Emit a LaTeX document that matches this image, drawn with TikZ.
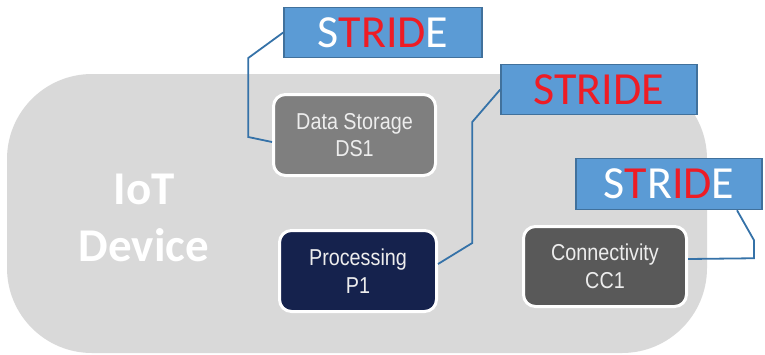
\documentclass[tikz,border=0pt]{standalone}
\usepackage{fontspec}
\setmainfont{Carlito}
\newfontfamily\boxfont[FakeStretch=0.86]{Liberation Sans}
\usepackage{tikz}
\usetikzlibrary{calc}
\usepackage{xcolor}
\definecolor{devicegray}{HTML}{D9D9D9}
\definecolor{dsgray}{HTML}{7F7F7F}
\definecolor{pnavy}{HTML}{15224D}
\definecolor{ccgray}{HTML}{595959}
\definecolor{stridefill}{HTML}{5B9BD5}
\definecolor{strideline}{HTML}{41719C}
\definecolor{stridered}{HTML}{EE1C25}
\definecolor{linkblue}{HTML}{3572A8}
\definecolor{boxtext}{HTML}{EDEDED}

\begin{document}
\begin{tikzpicture}[x=1pt,y=-1pt,
  elem/.style={draw=white,line width=3pt,rounded corners=12pt,inner sep=0pt,align=center,
    minimum width=162pt,minimum height=81pt,text=boxtext,font=\boxfont\fontsize{23}{27.6}\selectfont},
  threat/.style={draw=strideline,line width=1.5pt,fill=stridefill,inner sep=0pt,
    minimum height=50pt,font=\fontsize{46}{50}\selectfont},
  link/.style={draw=linkblue,line width=1.8pt}]
  \useasboundingbox (0,0) rectangle (765,354);
  % device outline
  \fill[devicegray,rounded corners=85pt] (7,74) rectangle (707,353);
  \node[text=white,align=center,font=\bfseries\fontsize{47}{57}\selectfont] (dev) at (144,218) {IoT\\Device};
  % components
  \node[elem,fill=dsgray,minimum width=162pt] (ds) at (354.5,135) {Data Storage\\DS1};
  \node[elem,fill=pnavy,minimum width=157pt] (p) at (358,271) {Processing\\P1};
  \node[elem,fill=ccgray,minimum width=163pt,minimum height=80pt] (cc) at (605,266.5) {Connectivity\\CC1};
  % STRIDE labels
  \node[threat,minimum width=198pt] (s1) at (383,32.5) {\textcolor{white}{S}\textcolor{stridered}{TRID}\textcolor{white}{E}};
  \node[threat,minimum width=196pt,text=stridered] (s2) at (599,89.5) {STRIDE};
  \node[threat,minimum width=186pt,minimum height=51pt] (s3) at (669,184) {\textcolor{white}{S}\textcolor{stridered}{T}\textcolor{white}{R}\textcolor{stridered}{ID}\textcolor{white}{E}};
  % connectors
  \draw[link] (s1.west) -- ++(-35,25.5) -- ++(0,79) -- ($(ds.west)+(0,7)$);
  \draw[link] (s2.west) -- ++(-28,32.5) -- ++(0,121) -- ($(p.east)+(0,-7)$);
  \draw[link] ($(s3.south)+(68,0)$) -- ++(17,30) -- ++(0,18) -- ($(cc.east)+(0,-7.5)$);
\end{tikzpicture}
\end{document}
